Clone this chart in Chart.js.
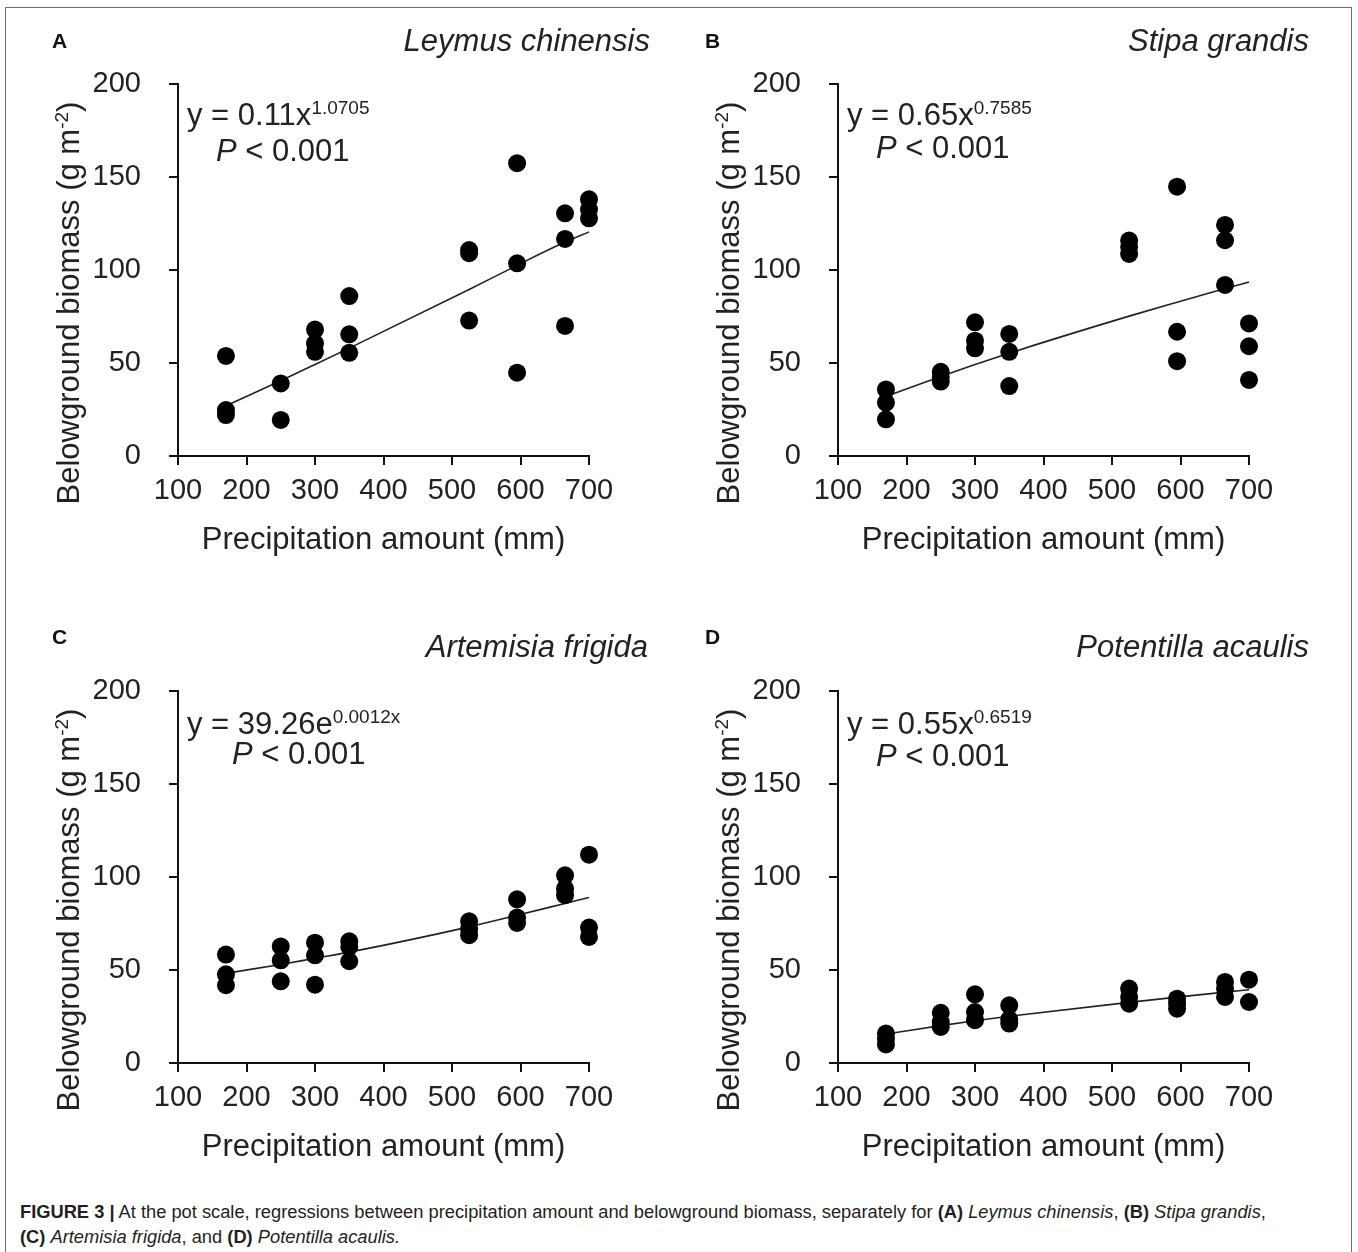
<!DOCTYPE html>
<html>
<head>
<meta charset="utf-8">
<script src="https://cdn.jsdelivr.net/npm/chart.js@4.4.1/dist/chart.umd.min.js"></script>
<style>
  body { margin: 0; background: #fff; width: 1358px; height: 1252px; overflow: hidden; position: relative;
         font-family: "Liberation Sans", Arial, sans-serif; color: #222; }
  .frame { position: absolute; left: 5px; top: 7px; width: 1347px; height: 1300px;
           border: 1.5px solid #6d6e71; border-bottom: none; box-sizing: border-box; }
  canvas { position: absolute; }
  .txt { position: absolute; white-space: nowrap; line-height: 1; }
  .letter { font-weight: bold; font-size: 21px; color: #111; }
  .species { font-style: italic; font-size: 31px; transform: translateX(-100%); }
  .eq { font-size: 31px; }
  .eq .sup { font-size: 19px; vertical-align: 11px; }
  .ytitle { position: absolute; white-space: nowrap; font-size: 31px; line-height: 1;
            transform: translate(-50%, -50%) rotate(-90deg); }
  .ytitle .sup { font-size: 19px; vertical-align: 11px; }
  .cap { position: absolute; left: 20px; top: 1199px; font-family: "Liberation Sans Narrow", "Arial Narrow", "Liberation Sans", sans-serif;
         font-size: 18.3px; line-height: 25px; color: #231f20; white-space: nowrap; }
</style>
</head>
<body>
<div class="frame"></div>

<canvas id="chartA" width="679" height="580" style="left:0px;top:0px"></canvas>
<canvas id="chartB" width="679" height="580" style="left:660px;top:0px"></canvas>
<canvas id="chartC" width="679" height="580" style="left:0px;top:607px"></canvas>
<canvas id="chartD" width="679" height="580" style="left:660px;top:607px"></canvas>

<div class="txt letter" style="left:52px;top:30px">A</div>
<div class="txt letter" style="left:705px;top:30px">B</div>
<div class="txt letter" style="left:52px;top:626px">C</div>
<div class="txt letter" style="left:705px;top:626px">D</div>

<div class="txt species" style="left:650px;top:25px">Leymus chinensis</div>
<div class="txt species" style="left:1309px;top:25px">Stipa grandis</div>
<div class="txt species" style="left:648px;top:631px">Artemisia frigida</div>
<div class="txt species" style="left:1309px;top:631px">Potentilla acaulis</div>

<div class="txt eq" style="left:187px;top:98px">y = 0.11x<span class="sup">1.0705</span></div>
<div class="txt eq" style="left:216px;top:135px"><i>P</i> &lt; 0.001</div>
<div class="txt eq" style="left:847px;top:98px">y = 0.65x<span class="sup">0.7585</span></div>
<div class="txt eq" style="left:876px;top:132px"><i>P</i> &lt; 0.001</div>
<div class="txt eq" style="left:187px;top:707px">y = 39.26e<span class="sup">0.0012x</span></div>
<div class="txt eq" style="left:232px;top:738px"><i>P</i> &lt; 0.001</div>
<div class="txt eq" style="left:847px;top:707px">y = 0.55x<span class="sup">0.6519</span></div>
<div class="txt eq" style="left:876px;top:740px"><i>P</i> &lt; 0.001</div>

<div class="ytitle" style="left:68px;top:303px">Belowground biomass (g m<span class="sup">-2</span>)</div>
<div class="ytitle" style="left:728px;top:303px">Belowground biomass (g m<span class="sup">-2</span>)</div>
<div class="ytitle" style="left:68px;top:910px">Belowground biomass (g m<span class="sup">-2</span>)</div>
<div class="ytitle" style="left:728px;top:910px">Belowground biomass (g m<span class="sup">-2</span>)</div>

<div class="cap"><b>FIGURE 3 |</b> At the pot scale, regressions between precipitation amount and belowground biomass, separately for <b>(A)</b> <i>Leymus chinensis</i>, <b>(B)</b> <i>Stipa grandis</i>,<br><b>(C)</b> <i>Artemisia frigida</i>, and <b>(D)</b> <i>Potentilla acaulis.</i></div>

<script>
// precipitation treatments (mm)
const precipLevels = [170, 250, 300, 350, 525, 595, 665, 700];

// belowground biomass (g m-2), replicates per precipitation level
const leymusBiomass = [[53.8, 24.7, 22.0], [39.0, 19.4], [68.0, 60.6, 56.0], [86.0, 65.4, 55.5],
                       [110.7, 109.0, 72.8], [157.4, 103.6, 44.8], [130.5, 116.7, 69.9], [138.0, 132.6, 127.8]];
const stipaBiomass = [[35.8, 28.7, 19.7], [45.3, 42.5, 40.0], [71.9, 62.0, 57.9], [65.6, 56.0, 37.6],
                      [115.8, 112.5, 108.6], [144.8, 66.8, 51.0], [124.2, 116.0, 92.0], [71.3, 59.0, 40.9]];
const artemisiaBiomass = [[58.3, 47.7, 41.8], [62.7, 55.2, 43.9], [64.7, 57.9, 42.1], [65.4, 62.4, 54.7],
                          [76.2, 72.0, 68.7], [88.0, 78.2, 75.3], [100.9, 93.7, 90.2], [112.0, 72.8, 67.8]];
const potentillaBiomass = [[15.8, 13.1, 10.0], [27.0, 22.0, 19.4], [36.9, 27.4, 23.0], [31.0, 23.5, 21.2],
                           [40.0, 35.5, 31.9], [34.6, 32.0, 29.2], [43.6, 40.0, 35.5], [44.8, 32.8]];

// regression curves read at the same precipitation levels
const leymusFit = [27.0, 40.5, 49.2, 58.0, 89.5, 102.5, 115.0, 120.5];
const stipaFit = [32.0, 42.8, 49.2, 55.3, 75.2, 82.7, 90.0, 93.5];
const artemisiaFit = [48.2, 53.0, 56.3, 59.6, 73.2, 79.4, 85.8, 89.0];
const potentillaFit = [15.6, 20.1, 22.7, 25.1, 32.6, 35.4, 38.1, 39.4];

// axis ticks
const xTicks = { min: 100, max: 700, step: 100 };
const yTicks = { min: 0, max: 200, step: 50 };

Chart.defaults.font.family = '"Liberation Sans", Arial, sans-serif';
Chart.defaults.color = '#222';

function makeChart(id, biomass, fit) {
    const pts = [];
    precipLevels.forEach((p, i) => {
        biomass[i].forEach(v => pts.push({ x: p, y: v }));
    });
    const curve = precipLevels.map((p, i) => ({ x: p, y: fit[i] }));

    const axisGrid = { drawOnChartArea: false, drawTicks: true, tickLength: 9, color: '#111', lineWidth: 2 };

    new Chart(document.getElementById(id), {
        type: 'scatter',
        data: {
            datasets: [
                {
                    type: 'line', data: curve, borderColor: '#222', borderWidth: 1.6,
                    pointRadius: 0, fill: false, cubicInterpolationMode: 'monotone', clip: false, order: 2
                },
                {
                    data: pts, backgroundColor: '#000', borderColor: '#000', borderWidth: 0,
                    pointRadius: 9, clip: false, order: 1
                }
            ]
        },
        options: {
            responsive: false,
            animation: false,
            events: [],
            layout: { padding: { left: 0, right: 90, top: 84, bottom: 0 } },
            plugins: { legend: { display: false }, tooltip: { enabled: false } },
            scales: {
                x: {
                    type: 'linear', min: xTicks.min, max: xTicks.max,
                    ticks: { stepSize: xTicks.step, padding: 9, color: '#222', font: { size: 29 }, maxRotation: 0 },
                    grid: axisGrid,
                    border: { color: '#111', width: 2 },
                    title: { display: true, text: 'Precipitation amount (mm)', color: '#222', font: { size: 31 }, padding: { top: 0, bottom: 21 } },
                    afterFit: s => { s.height = 124; }
                },
                y: {
                    type: 'linear', min: yTicks.min, max: yTicks.max,
                    ticks: { stepSize: yTicks.step, padding: 28, color: '#222', font: { size: 29 } },
                    grid: axisGrid,
                    border: { color: '#111', width: 2 },
                    afterFit: s => { s.width = 178; }
                }
            }
        }
    });
}

makeChart('chartA', leymusBiomass, leymusFit);
makeChart('chartB', stipaBiomass, stipaFit);
makeChart('chartC', artemisiaBiomass, artemisiaFit);
makeChart('chartD', potentillaBiomass, potentillaFit);
</script>
</body>
</html>
